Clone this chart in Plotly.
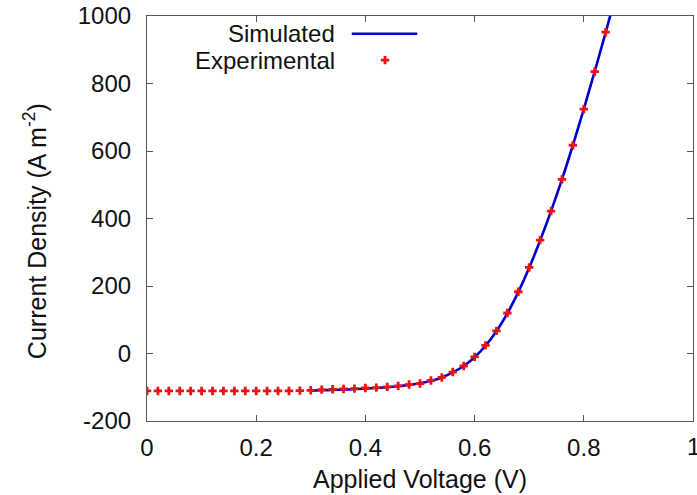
import plotly.graph_objects as go

# Experimental data (V, A m^-2)
exp_voltage = [0.00, 0.02, 0.04, 0.06, 0.08, 0.10, 0.12, 0.14, 0.16, 0.18,
               0.20, 0.22, 0.24, 0.26, 0.28, 0.30, 0.32, 0.34, 0.36, 0.38,
               0.40, 0.42, 0.44, 0.46, 0.48, 0.50, 0.52, 0.54, 0.56, 0.58,
               0.60, 0.62, 0.64, 0.66, 0.68, 0.70, 0.72, 0.74, 0.76, 0.78,
               0.80, 0.82, 0.84]
exp_current = [-111, -111, -111, -111, -111, -111, -111, -111, -111, -111,
               -111, -111, -111, -111, -110, -109, -107, -106, -105, -104,
               -102, -101, -99, -96, -92, -89, -80, -71, -55, -37,
               -10, 24, 67, 120, 183, 255, 336, 422, 516, 617,
               724, 835, 952]

# Simulated curve
sim_voltage = [0.30, 0.32, 0.34, 0.36, 0.38, 0.40, 0.42, 0.44, 0.46, 0.48,
               0.50, 0.52, 0.54, 0.56, 0.58, 0.60, 0.62, 0.64, 0.66, 0.68,
               0.70, 0.72, 0.74, 0.76, 0.78, 0.80, 0.82, 0.84, 0.855]
sim_current = [-110, -109, -108, -107, -106, -104, -102, -100, -97, -93,
               -88, -81, -71, -56, -37, -11, 23, 66, 119, 182,
               254, 335, 422, 516, 617, 724, 836, 951, 1040]

x_ticks = [0, 0.2, 0.4, 0.6, 0.8, 1]
x_tick_labels = ["0", "0.2", "0.4", "0.6", "0.8", "1"]
y_ticks = [-200, 0, 200, 400, 600, 800, 1000]
y_tick_labels = ["-200", "0", "200", "400", "600", "800", "1000"]

FONT = "Liberation Sans, Arial, sans-serif"
BLUE = "#0000cc"
RED = "#ee1111"
AX = "#555555"
TXT = "#111111"

fig = go.Figure()
fig.add_trace(go.Scatter(x=sim_voltage, y=sim_current, mode="lines",
                         line=dict(color=BLUE, width=2.6, shape="spline"),
                         name="Simulated", showlegend=False))
fig.add_trace(go.Scatter(x=exp_voltage, y=exp_current, mode="markers",
                         marker=dict(symbol="cross", color=RED, size=7, line=dict(width=0)),
                         name="Experimental", showlegend=False))
# legend sample marker on overlay axes
fig.add_trace(go.Scatter(x=[0.436], y=[0.891], mode="markers", xaxis="x2", yaxis="y2",
                         marker=dict(symbol="cross", color=RED, size=7, line=dict(width=0)),
                         showlegend=False, hoverinfo="skip"))

axis_common = dict(showgrid=False, zeroline=False, showline=True, linecolor=AX, linewidth=1.2,
                   mirror="ticks", ticks="inside", ticklen=6, tickcolor=AX, tickwidth=1,
                   automargin=False,
                   tickfont=dict(family=FONT, size=24, color=TXT))

fig.update_layout(
    width=697, height=495,
    margin=dict(l=147, r=4, t=16, b=74),
    paper_bgcolor="white", plot_bgcolor="white",
    xaxis=dict(range=[0, 1], tickvals=x_ticks, ticktext=x_tick_labels,
               ticklabelstandoff=5, **axis_common),
    yaxis=dict(range=[-200, 1000], tickvals=y_ticks, ticktext=y_tick_labels,
               ticklabelstandoff=10, **axis_common),
    xaxis2=dict(range=[0, 1], overlaying="x", visible=False, fixedrange=True),
    yaxis2=dict(range=[0, 1], overlaying="y", visible=False, fixedrange=True),
    showlegend=False,
)

# last x tick label (clipped at the right edge, as in the original)
fig.add_annotation(text=x_tick_labels[-1], xref="x", yref="paper", x=x_ticks[-1], y=-0.062,
                   xanchor="center", yanchor="middle", showarrow=False,
                   font=dict(family=FONT, size=24, color=TXT))
fig.add_annotation(text="Current Density (A m<sup>-2</sup>)", textangle=-90,
                   xref="paper", yref="paper", x=-0.205, y=0.469, xanchor="center", yanchor="middle",
                   showarrow=False, font=dict(family=FONT, size=25, color=TXT))
fig.add_annotation(text="Applied Voltage (V)",
                   xref="paper", yref="paper", x=0.5, y=-0.143, xanchor="center", yanchor="middle",
                   showarrow=False, font=dict(family=FONT, size=25, color=TXT))
# legend texts and line sample
fig.add_annotation(text="Simulated", xref="paper", yref="paper", x=0.348, y=0.956,
                   xanchor="right", yanchor="middle", showarrow=False,
                   font=dict(family=FONT, size=24, color=TXT))
fig.add_annotation(text="Experimental", xref="paper", yref="paper", x=0.348, y=0.891,
                   xanchor="right", yanchor="middle", showarrow=False,
                   font=dict(family=FONT, size=24, color=TXT))
fig.add_shape(type="line", xref="paper", yref="paper", x0=0.375, x1=0.495, y0=0.956, y1=0.956,
              line=dict(color=BLUE, width=2.6))

fig.write_html("out.html", config={"displayModeBar": False},
               post_script="document.body.style.margin='0';document.body.style.overflow='hidden';")
